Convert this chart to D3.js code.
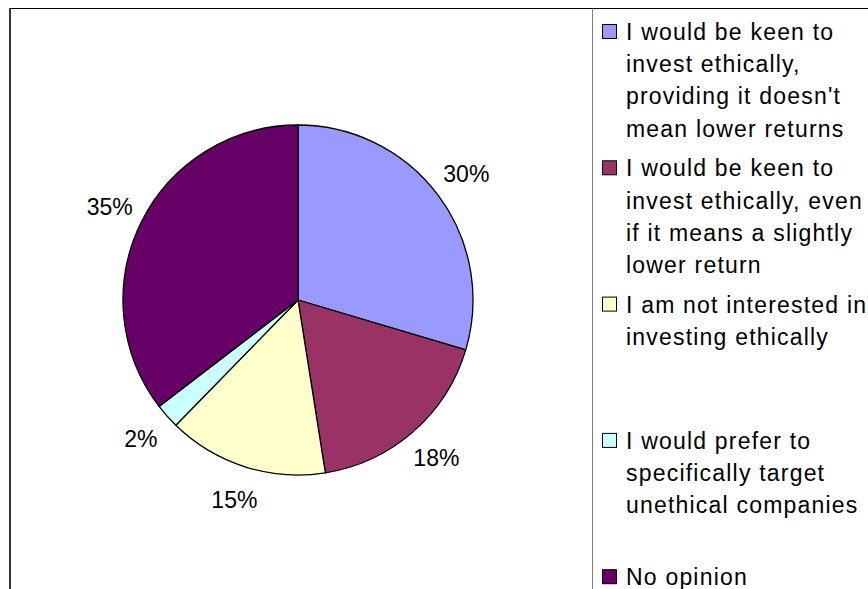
<!DOCTYPE html>
<html>
<head>
<meta charset="utf-8">
<script src="https://cdn.jsdelivr.net/npm/d3@7"></script>
<style>
  body { margin: 0; background: #fff; }
  svg { display: block; }
  text { font-family: "Liberation Sans", Arial, sans-serif; fill: #000; }
</style>
</head>
<body>
<div id="chart"></div>
<script>
// data
var categories = [
  "I would be keen to|invest ethically,|providing it doesn't|mean lower returns",
  "I would be keen to|invest ethically, even|if it means a slightly|lower return",
  "I am not interested in|investing ethically",
  "I would prefer to|specifically target|unethical companies",
  "No opinion"
];
var values = [29.6, 17.9, 14.8, 2.3, 35.4];
var colors = ["#9999FF", "#993366", "#FFFFCC", "#CCFFFF", "#660066"];

var width = 868;
var height = 589;
var cx = 298;
var cy = 300;
var radius = 175;
var labelRadius = 210;

var svg = d3
  .select("#chart")
  .append("svg")
  .attr("width", width)
  .attr("height", height);

// chart frame (runs off the right/bottom edge)
svg
  .append("rect")
  .attr("x", 10)
  .attr("y", 8.5)
  .attr("width", 1000)
  .attr("height", 1000)
  .attr("fill", "#fff")
  .attr("stroke", "#000")
  .attr("stroke-width", 1);
svg
  .append("line")
  .attr("x1", 10)
  .attr("x2", 10)
  .attr("y1", 8)
  .attr("y2", height)
  .attr("stroke", "#333")
  .attr("stroke-width", 2);
// legend divider
svg
  .append("line")
  .attr("x1", 592.5)
  .attr("x2", 592.5)
  .attr("y1", 8.5)
  .attr("y2", height)
  .attr("stroke", "#808080")
  .attr("stroke-width", 1);

var total = d3.sum(values);
var pie = d3
  .pie()
  .sort(null)
  .value(function(d) {
    return d;
  });
var arcs = pie(values);
var arc = d3.arc().innerRadius(0).outerRadius(radius);
var labelArc = d3.arc().innerRadius(labelRadius).outerRadius(labelRadius);

var g = svg.append("g").attr("transform", "translate(" + cx + "," + cy + ")");

g.selectAll("path")
  .data(arcs)
  .enter()
  .append("path")
  .attr("d", arc)
  .attr("fill", function(d, i) {
    return colors[i];
  })
  .attr("stroke", "#000")
  .attr("stroke-width", 1.3)
  .attr("stroke-linejoin", "round");

g.selectAll("text.pct")
  .data(arcs)
  .enter()
  .append("text")
  .attr("class", "pct")
  .attr("transform", function(d) {
    return "translate(" + labelArc.centroid(d) + ")";
  })
  .attr("text-anchor", "middle")
  .attr("dominant-baseline", "central")
  .attr("font-size", 23)
  .text(function(d) {
    return Math.round((d.value / total) * 100) + "%";
  });

// legend
var legendTop = 32;
var legendStep = 136.3;
var lineH = 32.2;
var legend = svg
  .selectAll("g.legend")
  .data(categories)
  .enter()
  .append("g")
  .attr("class", "legend")
  .attr("transform", function(d, i) {
    return "translate(0," + (legendTop + i * legendStep) + ")";
  });

legend
  .append("rect")
  .attr("x", 602.5)
  .attr("y", -7.5)
  .attr("width", 14)
  .attr("height", 14)
  .attr("fill", function(d, i) {
    return colors[i];
  })
  .attr("stroke", "#000")
  .attr("stroke-width", 1);

legend
  .append("text")
  .attr("font-size", 23)
  .attr("letter-spacing", 1.2)
  .selectAll("tspan")
  .data(function(d) {
    return d.split("|");
  })
  .enter()
  .append("tspan")
  .attr("x", 626)
  .attr("y", function(d, j) {
    return j * lineH;
  })
  .attr("dy", "0.35em")
  .text(function(d) {
    return d;
  });
</script>
</body>
</html>
